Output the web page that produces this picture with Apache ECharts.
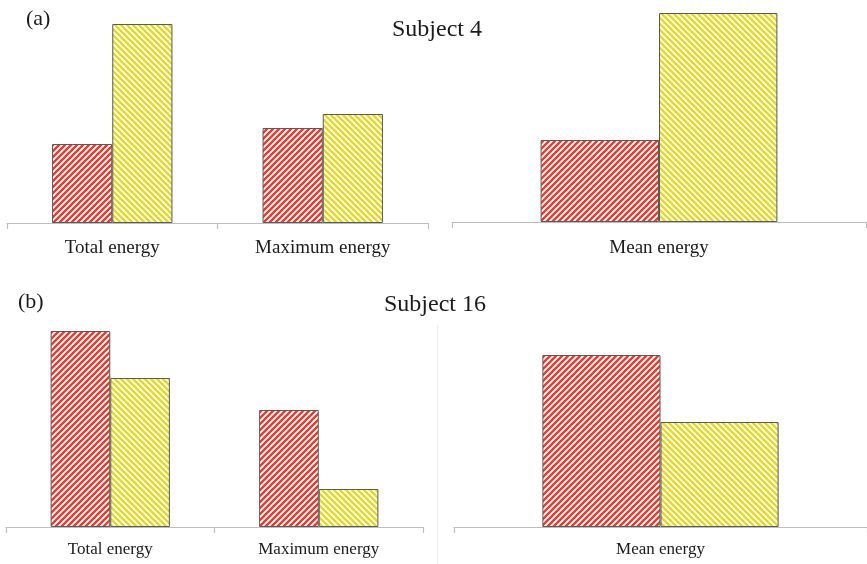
<!DOCTYPE html>
<html>
<head>
<meta charset="utf-8">
<script src="https://cdn.jsdelivr.net/npm/echarts@6/dist/echarts.min.js"></script>
<style>
  html, body { margin: 0; padding: 0; background: #ffffff; }
  #chart { width: 867px; height: 564px; }
</style>
</head>
<body>
<div id="chart"></div>
<script>
// Energy comparison for two subjects (arbitrary units, no value axis shown)
const sideCategories = ['Total energy', 'Maximum energy'];
const meanCategories = ['Mean energy'];

// Subject 4
const s4SideRed = [79, 95];
const s4SideYellow = [199, 109];
const s4MeanRed = [82];
const s4MeanYellow = [209];

// Subject 16
const s16SideRed = [196, 117];
const s16SideYellow = [149, 38];
const s16MeanRed = [172];
const s16MeanYellow = [105];

const panelLetters = ['(a)', '(b)'];
const panelTitles = ['Subject 4', 'Subject 16'];

// Diagonal hatch tiles
function hatch(color, forward) {
  const s = 6;
  const c = document.createElement('canvas');
  c.width = s; c.height = s;
  const g = c.getContext('2d');
  g.fillStyle = '#ffffff';
  g.fillRect(0, 0, s, s);
  g.strokeStyle = color;
  g.lineWidth = 2.4;
  g.beginPath();
  if (forward) {
    g.moveTo(-1, 1); g.lineTo(1, -1);
    g.moveTo(0, s); g.lineTo(s, 0);
    g.moveTo(s - 1, s + 1); g.lineTo(s + 1, s - 1);
  } else {
    g.moveTo(-1, s - 1); g.lineTo(1, s + 1);
    g.moveTo(0, 0); g.lineTo(s, s);
    g.moveTo(s - 1, -1); g.lineTo(s + 1, 1);
  }
  g.stroke();
  return { image: c, repeat: 'repeat' };
}
const redFill = hatch('#e83a2e', true);
const yellowFill = hatch('#e6d820', false);

const axisGray = '#bdbdbd';
const serif = '"Liberation Serif", "Times New Roman", serif';

const grids = [
  { left: 7,   top: 13,  width: 421, height: 210 },
  { left: 452, top: 13,  width: 414, height: 209 },
  { left: 6,   top: 317, width: 417, height: 210 },
  { left: 454, top: 317, width: 416, height: 210 }
];
const cats = [sideCategories, meanCategories, sideCategories, meanCategories];
const yMax = [210, 209, 210, 210];
const labelSize = [19, 19, 17, 17];
const labelMargin = [16, 17, 14, 14];

const xAxes = cats.map((c, i) => ({
  type: 'category', gridIndex: i, data: c,
  axisLine: { lineStyle: { color: axisGray, width: 1.2 } },
  axisTick: { show: true, length: 6, lineStyle: { color: axisGray, width: 1.2 } },
  axisLabel: { fontFamily: serif, fontSize: labelSize[i], color: '#1a1a1a', margin: labelMargin[i] }
}));
const yAxes = yMax.map((m, i) => ({
  type: 'value', gridIndex: i, min: 0, max: m, show: false, splitLine: { show: false }
}));

const data = [
  [s4SideRed, s4SideYellow],
  [s4MeanRed, s4MeanYellow],
  [s16SideRed, s16SideYellow],
  [s16MeanRed, s16MeanYellow]
];
const series = [];
data.forEach((pair, i) => {
  pair.forEach((vals, k) => {
    series.push({
      type: 'bar', xAxisIndex: i, yAxisIndex: i, data: vals,
      barWidth: '28.6%', barGap: '0%',
      silent: true,
      itemStyle: { color: k === 0 ? redFill : yellowFill, borderColor: '#5a5a5a', borderWidth: 1 }
    });
  });
});

const chart = echarts.init(document.getElementById('chart'), null, { renderer: 'canvas' });
chart.setOption({
  animation: false,
  backgroundColor: '#ffffff',
  grid: grids,
  xAxis: xAxes,
  yAxis: yAxes,
  series: series,
  graphic: [
    { type: 'text', x: 26, y: 19, style: { text: panelLetters[0], font: '22px ' + serif, fill: '#1a1a1a', verticalAlign: 'middle' } },
    { type: 'text', x: 18, y: 302, style: { text: panelLetters[1], font: '22px ' + serif, fill: '#1a1a1a', verticalAlign: 'middle' } },
    { type: 'text', x: 437, y: 30, style: { text: panelTitles[0], font: '24px ' + serif, fill: '#1a1a1a', align: 'center', verticalAlign: 'middle' } },
    { type: 'text', x: 435, y: 305, style: { text: panelTitles[1], font: '24px ' + serif, fill: '#1a1a1a', align: 'center', verticalAlign: 'middle' } },
    { type: 'line', shape: { x1: 437.5, y1: 325, x2: 437.5, y2: 564 }, style: { stroke: '#ececec', lineWidth: 1 } }
  ]
});
</script>
</body>
</html>
